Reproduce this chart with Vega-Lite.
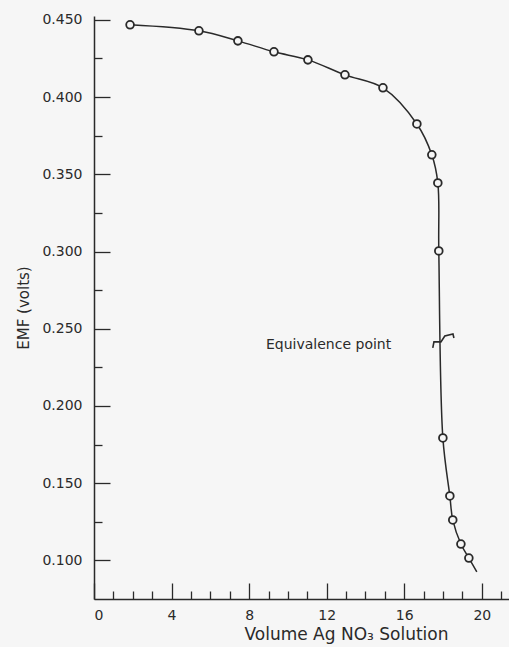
{
  "$schema": "https://vega.github.io/schema/vega-lite/v6.json",
  "autosize": "none",
  "width": 415,
  "height": 583,
  "padding": {"left": 94, "top": 16, "right": 0, "bottom": 48},
  "background": "#f6f6f6",
  "view": {"stroke": null},
  "config": {
    "font": "DejaVu Sans",
    "axis": {
      "domainColor": "#2a2a2a",
      "domainWidth": 1.5,
      "tickColor": "#2a2a2a",
      "tickWidth": 1.3,
      "labelColor": "#2a2a2a",
      "titleColor": "#2a2a2a",
      "labelFont": "DejaVu Sans",
      "titleFont": "DejaVu Sans",
      "titleFontWeight": "normal",
      "grid": false
    }
  },
  "datasets": {
    "curve": [
      {"volume": 1.86, "emf": 0.4468, "kind": "obs"},
      {"volume": 5.41, "emf": 0.4429, "kind": "obs"},
      {"volume": 7.42, "emf": 0.4364, "kind": "obs"},
      {"volume": 9.28, "emf": 0.4293, "kind": "obs"},
      {"volume": 11.03, "emf": 0.4241, "kind": "obs"},
      {"volume": 12.94, "emf": 0.4144, "kind": "obs"},
      {"volume": 14.9, "emf": 0.406, "kind": "obs"},
      {"volume": 16.65, "emf": 0.3826, "kind": "obs"},
      {"volume": 17.42, "emf": 0.3626, "kind": "obs"},
      {"volume": 17.73, "emf": 0.3444, "kind": "obs"},
      {"volume": 17.78, "emf": 0.3004, "kind": "obs"},
      {"volume": 17.99, "emf": 0.1793, "kind": "obs"},
      {"volume": 18.35, "emf": 0.1417, "kind": "obs"},
      {"volume": 18.5, "emf": 0.1262, "kind": "obs"},
      {"volume": 18.92, "emf": 0.1106, "kind": "obs"},
      {"volume": 19.33, "emf": 0.1015, "kind": "obs"},
      {"volume": 19.74, "emf": 0.0925, "kind": "tail"}
    ],
    "marker": [
      {"order": 1, "volume": 17.47, "emf": 0.2376},
      {"order": 2, "volume": 17.53, "emf": 0.2415},
      {"order": 3, "volume": 17.89, "emf": 0.2415},
      {"order": 4, "volume": 18.09, "emf": 0.2453},
      {"order": 5, "volume": 18.51, "emf": 0.2466},
      {"order": 6, "volume": 18.56, "emf": 0.244}
    ],
    "note": [
      {"volume": 8.87, "emf": 0.2395, "text": "Equivalence point"}
    ]
  },
  "encoding": {
    "x": {
      "field": "volume",
      "type": "quantitative",
      "scale": {"domain": [0, 21.4], "nice": false, "zero": false},
      "axis": {
        "title": "Volume Ag NO₃ Solution",
        "titleFontSize": 17,
        "titlePadding": 4,
        "titleX": 252,
        "values": [0, 1, 2, 3, 4, 5, 6, 7, 8, 9, 10, 11, 12, 13, 14, 15, 16, 17, 18, 19, 20, 21],
        "labelExpr": "datum.value % 4 == 0 ? datum.label : ''",
        "format": "d",
        "labelFontSize": 14,
        "labelPadding": 25,
        "tickSize": {"condition": {"test": "datum.value % 4 == 0", "value": -16}, "value": -8}
      }
    },
    "y": {
      "field": "emf",
      "type": "quantitative",
      "scale": {"domain": [0.075, 0.4525], "nice": false, "zero": false},
      "axis": {
        "title": "EMF (volts)",
        "titleFontSize": 15,
        "titlePadding": 10,
        "values": [0.1, 0.125, 0.15, 0.175, 0.2, 0.225, 0.25, 0.275, 0.3, 0.325, 0.35, 0.375, 0.4, 0.425, 0.45],
        "labelExpr": "abs(datum.value * 20 - round(datum.value * 20)) < 0.01 ? format(datum.value, '.3f') : ''",
        "labelFontSize": 14,
        "labelPadding": 28,
        "tickSize": {"condition": {"test": "abs(datum.value * 20 - round(datum.value * 20)) < 0.01", "value": -16}, "value": -8}
      }
    }
  },
  "layer": [
    {
      "data": {"name": "curve"},
      "mark": {"type": "line", "interpolate": "catmull-rom", "color": "#2a2a2a", "strokeWidth": 1.5},
      "encoding": {"order": {"field": "volume", "type": "quantitative"}}
    },
    {
      "data": {"name": "curve"},
      "transform": [{"filter": "datum.kind == 'obs'"}],
      "mark": {"type": "point", "shape": "circle", "filled": false, "fill": "#f6f6f6", "fillOpacity": 1, "stroke": "#2a2a2a", "strokeWidth": 1.8, "opacity": 1, "size": 60}
    },
    {
      "data": {"name": "marker"},
      "mark": {"type": "line", "color": "#2a2a2a", "strokeWidth": 1.6},
      "encoding": {"order": {"field": "order", "type": "quantitative"}}
    },
    {
      "data": {"name": "note"},
      "mark": {"type": "text", "align": "left", "baseline": "middle", "fontSize": 14, "color": "#2a2a2a"},
      "encoding": {"text": {"field": "text", "type": "nominal"}}
    }
  ]
}
